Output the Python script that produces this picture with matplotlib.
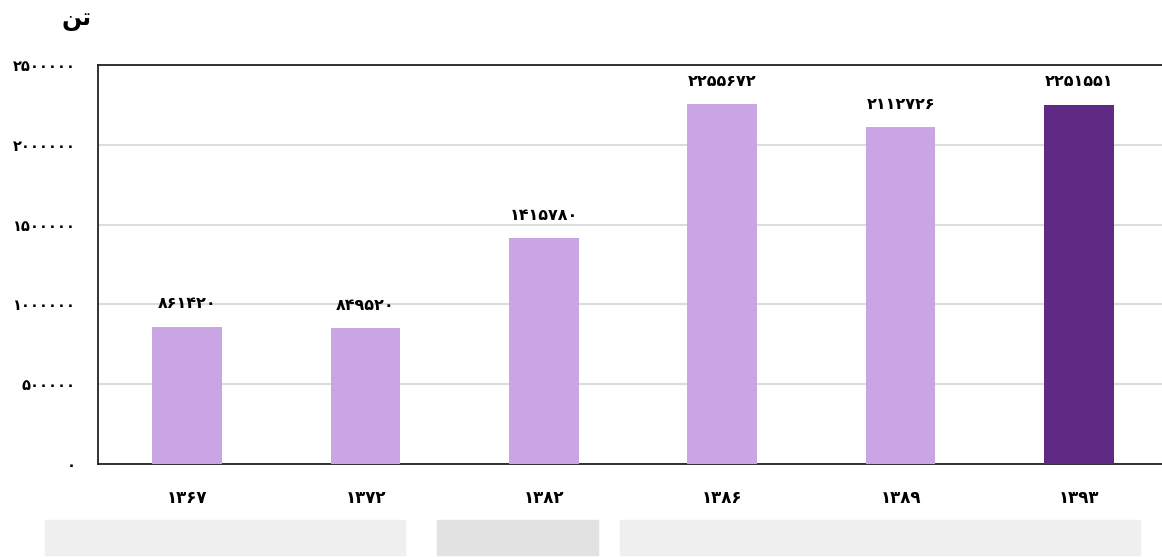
import matplotlib.pyplot as plt
from matplotlib.patches import Rectangle

# data
years = ['۱۳۶۷', '۱۳۷۲', '۱۳۸۲', '۱۳۸۶', '۱۳۸۹', '۱۳۹۳']
values = [861420, 849520, 1415780, 2255672, 2112726, 2251551]
yticks = [0, 500000, 1000000, 1500000, 2000000, 2500000]

light = '#C9A6E3'
dark = '#5E2A84'
colors = [light] * 5 + [dark]

persian = str.maketrans('0123456789', '۰۱۲۳۴۵۶۷۸۹')


def fa(n):
    return str(n).translate(persian)


plt.rcParams['font.family'] = ['DejaVu Sans']

fig = plt.figure(figsize=(11.62, 5.57), dpi=100)
ax = fig.add_axes([0.0843, 0.167, 0.921, 0.7163])

x = range(len(years))
bars = ax.bar(x, values, width=0.39, color=colors, zorder=3)

# value labels above each bar
for b, v in zip(bars, values):
    ax.annotate(fa(v), (b.get_x() + b.get_width() / 2, v), xytext=(0, 11),
                textcoords='offset points', ha='center', va='bottom',
                fontsize=11.5, fontweight='bold', zorder=4)

ax.set_xlim(-0.5, len(years) - 0.5)
ax.set_ylim(0, 2500000)
ax.set_yticks(yticks)
ax.set_yticklabels([fa(t) for t in yticks], fontsize=10.5, fontweight='bold')
ax.set_xticks(list(x))
ax.set_xticklabels(years, fontsize=12, fontweight='bold')
ax.tick_params(axis='both', length=0)
ax.tick_params(axis='y', pad=16)
ax.tick_params(axis='x', pad=18)

ax.grid(axis='y', color='#dcdcdc', lw=1.5, zorder=0)
for s in ax.spines.values():
    s.set_color('#222222')
    s.set_linewidth(1.3)

# unit label "تن" (presentation forms, visual order)
fig.text(0.066, 0.965, '\uFEE6\uFE97', ha='center', va='center',
         fontsize=17, fontweight='bold')

# grey strip along the bottom of the screenshot
for x0, x1, c in [(45, 405, '#efefef'), (437, 598, '#e2e2e2'), (620, 1140, '#efefef')]:
    fig.patches.append(Rectangle((x0 / 1162, 0.003), (x1 - x0) / 1162, 35 / 557,
                                 transform=fig.transFigure, color=c, zorder=0))

fig.savefig('out.png', dpi=100)
